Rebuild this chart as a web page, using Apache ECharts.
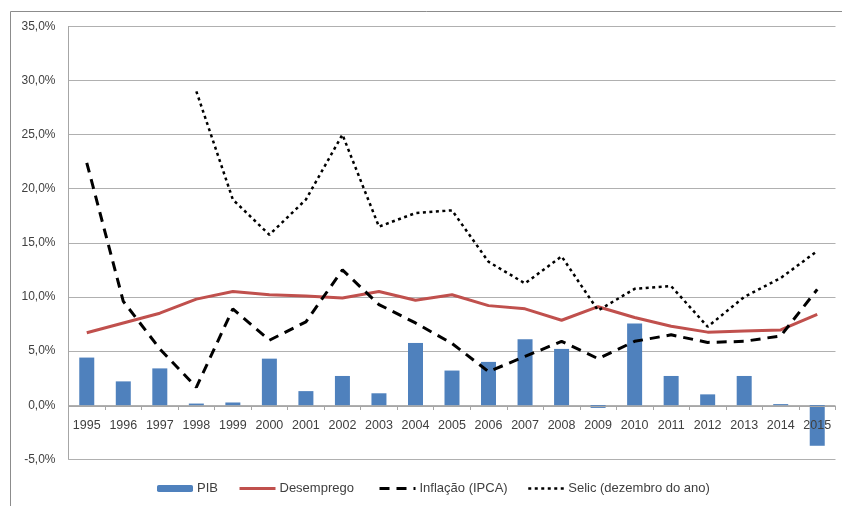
<!DOCTYPE html>
<html>
<head>
<meta charset="utf-8">
<script src="https://cdn.jsdelivr.net/npm/echarts@6/dist/echarts.min.js"></script>
<style>html,body{margin:0;padding:0;background:#fff;}#c{width:842px;height:506px;}</style>
</head>
<body>
<div id="c"></div>
<script>
var years = ['1995','1996','1997','1998','1999','2000','2001','2002','2003','2004','2005','2006','2007','2008','2009','2010','2011','2012','2013','2014','2015'];
var pib = [4.4, 2.2, 3.4, 0.15, 0.25, 4.3, 1.3, 2.7, 1.1, 5.75, 3.2, 4.0, 6.1, 5.2, -0.25, 7.55, 2.7, 1.0, 2.7, 0.1, -3.75];
var desemprego = [6.7, 7.6, 8.5, 9.8, 10.5, 10.2, 10.1, 9.9, 10.5, 9.7, 10.2, 9.2, 8.9, 7.85, 9.1, 8.1, 7.3, 6.75, 6.85, 6.95, 8.4];
var inflacao = [22.4, 9.6, 5.2, 1.65, 8.9, 6.0, 7.7, 12.5, 9.3, 7.6, 5.7, 3.1, 4.5, 5.9, 4.3, 5.9, 6.5, 5.8, 5.9, 6.4, 10.7];
var selic = [null, null, null, 29.0, 19.0, 15.75, 19.0, 25.0, 16.5, 17.75, 18.0, 13.25, 11.25, 13.75, 8.75, 10.75, 11.0, 7.25, 10.0, 11.75, 14.25];
var seriesNames = ['PIB', 'Desemprego', 'Inflação (IPCA)', 'Selic (dezembro do ano)'];
var yTicks = {min: -5, max: 35, interval: 5};

var chart = echarts.init(document.getElementById('c'), null, {renderer: 'canvas'});
var fnt = 'Liberation Sans, Arial, sans-serif';
var legendLefts = [157, 238, 378, 527];
var legendLines = [null,
  {color: '#c0504d', width: 3},
  {color: '#000', width: 3, type: [10, 7]},
  {color: '#000', width: 2.5, type: [3, 3.5], cap: 'butt'}];
var legends = seriesNames.map(function (n, i) {
  var item = {name: n};
  if (i > 0) { item.itemStyle = {opacity: 0}; item.lineStyle = legendLines[i]; }
  return {
    left: legendLefts[i], top: 482, padding: 0,
    itemWidth: 36, itemHeight: 7, itemGap: 0,
    textStyle: {color: '#404040', fontSize: 13, fontFamily: fnt, padding: [0, 0, 0, -1]},
    data: [item]
  };
});
chart.setOption({
  animation: false,
  textStyle: {fontFamily: fnt},
  graphic: [{
    type: 'rect', silent: true,
    shape: {x: 10.5, y: 11.5, width: 900, height: 600},
    style: {fill: 'none', stroke: '#8c8c8c', lineWidth: 1}
  }],
  grid: {left: 68.5, right: 6.5, top: 26.4, bottom: 46.7, containLabel: false},
  legend: legends,
  xAxis: {
    type: 'category', data: years, boundaryGap: true,
    offset: -53.3, z: 5,
    axisLine: {onZero: false, lineStyle: {color: '#a6a6a6', width: 1}},
    axisTick: {show: true, length: 4, lineStyle: {color: '#a6a6a6'}},
    axisLabel: {interval: 0, color: '#404040', fontSize: 12.5, margin: 13, fontFamily: fnt},
    splitLine: {show: false}
  },
  yAxis: {
    type: 'value', min: yTicks.min, max: yTicks.max, interval: yTicks.interval,
    axisLine: {show: true, lineStyle: {color: '#a6a6a6'}},
    axisTick: {show: false},
    axisLabel: {color: '#404040', fontSize: 12, margin: 13, fontFamily: fnt,
      formatter: function (v) { return v.toFixed(1).replace('.', ',') + '%'; }},
    splitLine: {show: true, lineStyle: {color: '#b0b0b0', width: 1}}
  },
  series: [
    {name: seriesNames[0], type: 'bar', data: pib, barWidth: 15,
      itemStyle: {color: '#4f81bd'}},
    {name: seriesNames[1], type: 'line', data: desemprego, symbol: 'none',
      lineStyle: {color: '#c0504d', width: 3}, itemStyle: {color: '#c0504d'}},
    {name: seriesNames[2], type: 'line', data: inflacao, symbol: 'none',
      lineStyle: {color: '#000', width: 3, type: [10, 7]}, itemStyle: {color: '#000'}},
    {name: seriesNames[3], type: 'line', data: selic, symbol: 'none',
      lineStyle: {color: '#000', width: 2.5, type: [3, 3.5], cap: 'butt'}, itemStyle: {color: '#000'}}
  ]
});
</script>
</body>
</html>
